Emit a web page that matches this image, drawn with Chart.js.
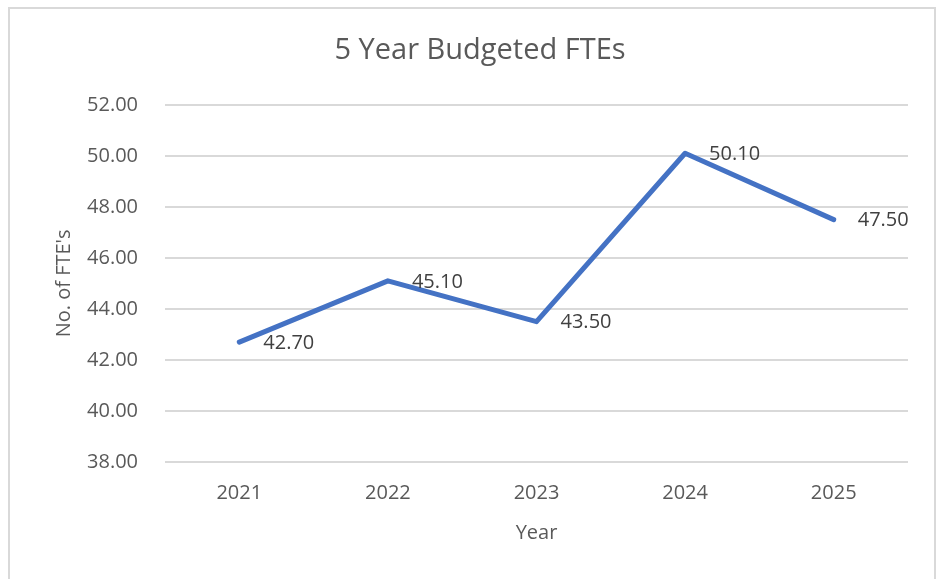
<!DOCTYPE html>
<html>
<head>
<meta charset="utf-8">
<script src="https://cdn.jsdelivr.net/npm/chart.js@4"></script>
<style>
  body { margin: 0; background: #fff; }
  #wrap { position: relative; width: 937px; height: 579px; overflow: hidden; }
  #frame { position: absolute; left: 8px; top: 7px; width: 924px; height: 600px; border: 2px solid #d9d9d9; }
  #myChart { position: absolute; left: 0; top: 0; }
</style>
</head>
<body>
<div id="wrap">
  <div id="frame"></div>
  <canvas id="myChart" width="937" height="579"></canvas>
</div>
<script>
const years = ['2021', '2022', '2023', '2024', '2025'];
const fteValues = [42.70, 45.10, 43.50, 50.10, 47.50];
const yMin = 38;
const yMax = 52;
const yStep = 2;

const textColor = '#595959';
const fontFamily = "'Open Sans', 'Liberation Sans', sans-serif";

// draw the value labels to the right of each point, like Excel's "Right" position
const valueLabels = {
    id: 'valueLabels',
    afterDatasetsDraw(chart) {
        const ctx = chart.ctx;
        const meta = chart.getDatasetMeta(0);
        ctx.save();
        ctx.font = '20px ' + fontFamily;
        ctx.fillStyle = '#404040';
        ctx.textAlign = 'left';
        ctx.textBaseline = 'middle';
        meta.data.forEach(function(pt, i) {
            ctx.fillText(fteValues[i].toFixed(2), pt.x + 24, pt.y + 1);
        });
        ctx.restore();
    }
};

const ctx = document.getElementById('myChart').getContext('2d');
new Chart(ctx, {
    type: 'line',
    data: {
        labels: years,
        datasets: [{
            data: fteValues,
            borderColor: '#4472c4',
            borderWidth: 5,
            pointRadius: 0,
            pointHoverRadius: 0,
            tension: 0,
            fill: false,
            borderCapStyle: 'round',
            borderJoinStyle: 'round'
        }]
    },
    options: {
        responsive: false,
        animation: false,
        layout: {
            padding: { top: 29, left: 52, right: 29, bottom: 30 }
        },
        plugins: {
            legend: { display: false },
            tooltip: { enabled: false },
            title: {
                display: true,
                text: '5 Year Budgeted FTEs',
                color: textColor,
                font: { family: fontFamily, size: 29, weight: 'normal' },
                padding: { top: 4, bottom: 37 }
            }
        },
        scales: {
            x: {
                offset: true,
                grid: { display: false, drawTicks: false },
                border: { display: false },
                afterFit: function(scale) { scale.height = 87; },
                ticks: {
                    color: textColor,
                    font: { family: fontFamily, size: 20 },
                    padding: 19
                },
                title: {
                    display: true,
                    text: 'Year',
                    color: textColor,
                    font: { family: fontFamily, size: 20 },
                    padding: { top: 14, bottom: 4 }
                }
            },
            y: {
                min: yMin,
                max: yMax,
                grid: { color: '#d9d9d9', lineWidth: 2, drawTicks: false },
                border: { display: false },
                afterFit: function(scale) { scale.width = 113; },
                ticks: {
                    stepSize: yStep,
                    color: textColor,
                    font: { family: fontFamily, size: 20 },
                    padding: 27,
                    callback: function(v) { return v.toFixed(2); }
                },
                title: {
                    display: true,
                    text: "No. of FTE's",
                    color: textColor,
                    font: { family: fontFamily, size: 20 },
                    padding: { top: 0, bottom: 14 }
                }
            }
        }
    },
    plugins: [valueLabels]
});
</script>
</body>
</html>
